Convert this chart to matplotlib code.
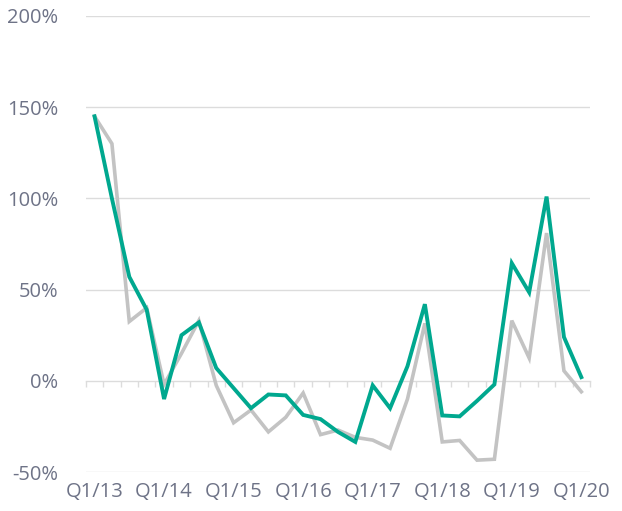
import numpy as np
import matplotlib
matplotlib.use("Agg")
import matplotlib.pyplot as plt

# quarterly growth, Q1/13 .. Q1/20
quarters = [f"Q{q}/{y}" for y in range(13, 21) for q in range(1, 5)][:29]
teal_vals = [145, 100, 57, 39, -10, 25, 32, 7, -4, -15, -7.5, -8, -18.7, -21,
             -28, -33.5, -2.5, -15, 8, 42, -19, -19.5, -11, -2, 64.5, 48.5,
             101, 24, 2]
grey_vals = [145, 130, 32.5, 40, -2, 15, 33, -2.5, -23, -16, -28, -20, -6.7,
             -29.5, -27, -31, -32.5, -37, -10, 31.5, -33.5, -32.7, -43.5, -43,
             33, 12.5, 81, 5.5, -6]
label_every = 4
y_ticks = [-50, 0, 50, 100, 150, 200]

TEAL = "#00a88f"
GREY = "#c3c3c3"
GRID = "#dcdcdc"
TEXT = "#6e7387"

plt.rcParams["font.family"] = ["Open Sans", "DejaVu Sans"]

fig = plt.figure(figsize=(6.22, 5.11), dpi=100)
ax = fig.add_axes([0.138, 0.0763, 0.8106, 0.8924])

x = np.arange(len(quarters))
ax.plot(x, grey_vals, color=GREY, linewidth=2.6, solid_joinstyle="miter", zorder=3)
ax.plot(x, teal_vals, color=TEAL, linewidth=2.8, solid_joinstyle="miter", zorder=4)

ax.set_xlim(-0.5, len(quarters) - 0.5)
ax.set_ylim(-50, 200)

# horizontal gridlines (0 is drawn by the spine)
for v in y_ticks:
    if v != 0:
        ax.axhline(v, color=GRID, linewidth=1.0, zorder=1)

for side in ["top", "right", "left"]:
    ax.spines[side].set_visible(False)
ax.spines["bottom"].set_position(("data", 0))
ax.spines["bottom"].set_color(GRID)
ax.spines["bottom"].set_linewidth(1.0)

# category boundary ticks on the zero line
ax.set_xticks(np.arange(len(quarters) + 1) - 0.5)
ax.set_xticklabels([])
ax.tick_params(axis="x", length=4, width=1.0, color=GRID, direction="out")

ax.set_yticks(y_ticks)
ax.set_yticklabels([f"{v}%" for v in y_ticks], fontsize=14.5, color=TEXT)
ax.tick_params(axis="y", length=0, pad=20)

# quarter labels along the bottom
sec = ax.secondary_xaxis(0)
sec.set_xticks(x[::label_every])
sec.set_xticklabels(quarters[::label_every], fontsize=14.5, color=TEXT)
sec.tick_params(length=0, pad=7)
sec.spines["bottom"].set_visible(False)

fig.savefig("out.png", dpi=100)
